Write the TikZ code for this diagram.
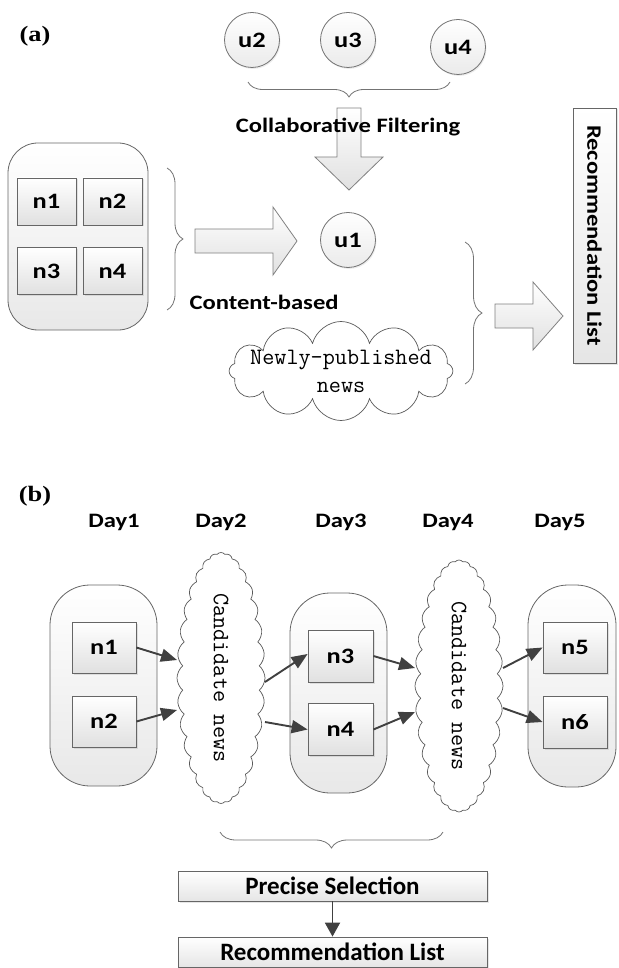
\documentclass[tikz,border=0pt]{standalone}
\usepackage{fontspec}
\setmainfont{Liberation Serif}[FakeStretch=1.2]
\setsansfont{Carlito}[FakeStretch=1.2]
\newfontfamily\plainsans{Carlito}
\usepackage{tikz}
\usetikzlibrary{calc,arrows.meta,shapes.symbols,shadows,decorations.pathreplacing}

\begin{document}
\begin{tikzpicture}[x=1pt,y=-1pt]
  \tikzset{
    tag/.style={font=\bfseries\fontsize{22}{24}\selectfont},
    lbl/.style={font=\sffamily\bfseries\fontsize{20.5}{24}\selectfont},
    user/.style={circle, draw=black!55, line width=0.8pt, top color=white, bottom color=black!8, minimum size=55pt, inner sep=0pt, font=\sffamily\bfseries\fontsize{22}{24}\selectfont, drop shadow={shadow xshift=1pt, shadow yshift=-1.5pt, opacity=0.15}},
    item/.style={draw=black!60, line width=0.8pt, top color=white, bottom color=black!12, minimum width=59pt, minimum height=47pt, inner sep=0pt, font=\sffamily\bfseries\fontsize{22}{24}\selectfont, drop shadow={shadow xshift=1.5pt, shadow yshift=-1.5pt, opacity=0.2}},
    group/.style={draw=black!60, line width=0.8pt, rounded corners=#1, top color=white, bottom color=black!9, inner sep=0pt},
    cand/.style={cloud, cloud puffs=#1, cloud ignores aspect, draw=black!65, line width=0.7pt, fill=white, inner sep=0pt, font=\ttfamily\fontsize{23.5}{28}\selectfont, align=center},
    brc/.style={decorate, decoration={brace, amplitude=#1}, draw=black!55, line width=0.8pt},
    fat/.style={draw=black!50, line width=0.8pt, top color=white, bottom color=black!12},
    link/.style={-{Triangle[length=16pt,width=13pt]}, draw=black!75, line width=1.9pt},
    bar/.style={draw=black!60, line width=0.8pt, top color=white, bottom color=black!10, inner sep=0pt, font=\plainsans\bfseries\fontsize{25}{28}\selectfont, drop shadow={shadow xshift=1.5pt, shadow yshift=-1.5pt, opacity=0.2}}
  }
  \useasboundingbox (0,0) rectangle (618,968);

  % ================= (a) =================
  \node[tag] (tagA) at (35,36) {(a)};

  % neighbour users
  \node[user] (u2) at (252,40) {u2};
  \node[user] (u3) at (348,40) {u3};
  \node[user] (u4) at (458,47) {u4};
  \draw[brc=15pt] (450,82) -- (248,82);

  % collaborative filtering arrow (label sits on the shaft)
  \draw[fat] (337,108) -- (361,108) -- (361,157) -- (383,157) -- (349,190)
    -- (315,157) -- (337,157) -- cycle;
  \node[lbl] (cf) at (348,127) {Collaborative Filtering};

  \node[user] (u1) at (348,240) {u1};

  % read news of the user
  \node[group=30pt, minimum width=140pt, minimum height=187pt] (read) at (78,236.5) {};
  \node[item] (a1) at (46.5,201.5) {n1};
  \node[item] (a2) at (112.5,201.5) {n2};
  \node[item] (a3) at (46.5,271) {n3};
  \node[item] (a4) at (112.5,271) {n4};
  \draw[brc=16pt] (167,168) -- (167,310);

  % content-based arrow
  \draw[fat] (195,229) -- (273,229) -- (273,207) -- (297,241) -- (273,275)
    -- (273,253) -- (195,253) -- cycle;
  \node[lbl, anchor=west] (cb) at (186,302) {Content-based};

  \node[cand=12, inner xsep=-13pt, inner ysep=-1pt] (fresh) at (341,371)
    {Newly-published\\news};
  \draw[brc=17pt] (465,242) -- (465,384);

  \draw[fat] (495,304) -- (533,304) -- (533,282) -- (563,316) -- (533,350)
    -- (533,328) -- (495,328) -- cycle;
  \node[bar, rotate=-90, minimum width=255pt, minimum height=43pt, font=\sffamily\bfseries\fontsize{20.5}{24}\selectfont]
    (listA) at (594.5,235.5) {Recommendation List};

  % ================= (b) =================
  \node[tag] (tagB) at (35,496) {(b)};

  \node[lbl] (d1) at (114,522) {Day1};
  \node[lbl] (d2) at (221,522) {Day2};
  \node[lbl] (d3) at (341,522) {Day3};
  \node[lbl] (d4) at (448,522) {Day4};
  \node[lbl] (d5) at (560,522) {Day5};

  % day groups
  \node[group=40pt, minimum width=107pt, minimum height=201pt] (g1) at (103.5,685.5) {};
  \node[group=40pt, minimum width=97pt, minimum height=200pt] (g3) at (338.5,693) {};
  \node[group=40pt, minimum width=88pt, minimum height=202pt] (g5) at (572,686) {};

  \node[item, minimum width=64pt, minimum height=51pt] (n1) at (104,647.5) {n1};
  \node[item, minimum width=64pt, minimum height=51pt] (n2) at (104,721.5) {n2};
  \node[item, minimum width=65pt, minimum height=52pt] (n3) at (340.5,656) {n3};
  \node[item, minimum width=65pt, minimum height=52pt] (n4) at (340.5,729.5) {n4};
  \node[item, minimum width=64pt, minimum height=51pt] (n5) at (575,647.5) {n5};
  \node[item, minimum width=64pt, minimum height=52pt] (n6) at (575,722) {n6};

  % candidate pools
  \node[cand=32, cloud puff arc=100, rotate=-90, minimum width=251pt, minimum height=88pt] (pool1) at (221,678) {Candidate news};
  \node[cand=32, cloud puff arc=100, rotate=-90, minimum width=252pt, minimum height=88pt] (pool2) at (459,686) {Candidate news};

  \coordinate (p1a) at (177,660);
  \coordinate (p1b) at (177,710);
  \coordinate (p1c) at (265,682);
  \coordinate (p1d) at (265,722);
  \coordinate (p2a) at (415,668);
  \coordinate (p2b) at (415,712);
  \coordinate (p2c) at (503,668);
  \coordinate (p2d) at (503,708);

  \draw[link] (n1.east) -- (p1a);
  \draw[link] (n2.east) -- (p1b);
  \draw[link] (p1c) -- ([yshift=2pt]n3.west);
  \draw[link] (p1d) -- (n4.west);
  \draw[link] (n3.east) -- (p2a);
  \draw[link] (n4.east) -- (p2b);
  \draw[link] (p2c) -- (n5.west);
  \draw[link] (p2d) -- (n6.west);

  \draw[brc=16pt] (443,832) -- (220,832);

  \node[bar, minimum width=309pt, minimum height=30pt] (sel) at (332.5,886) {Precise Selection};
  \node[bar, minimum width=309pt, minimum height=30pt] (listB) at (332.5,952) {Recommendation List};
  \draw[link, -{Triangle[length=14pt,width=15pt]}] (sel.south) -- (listB.north);

\end{tikzpicture}
\end{document}
